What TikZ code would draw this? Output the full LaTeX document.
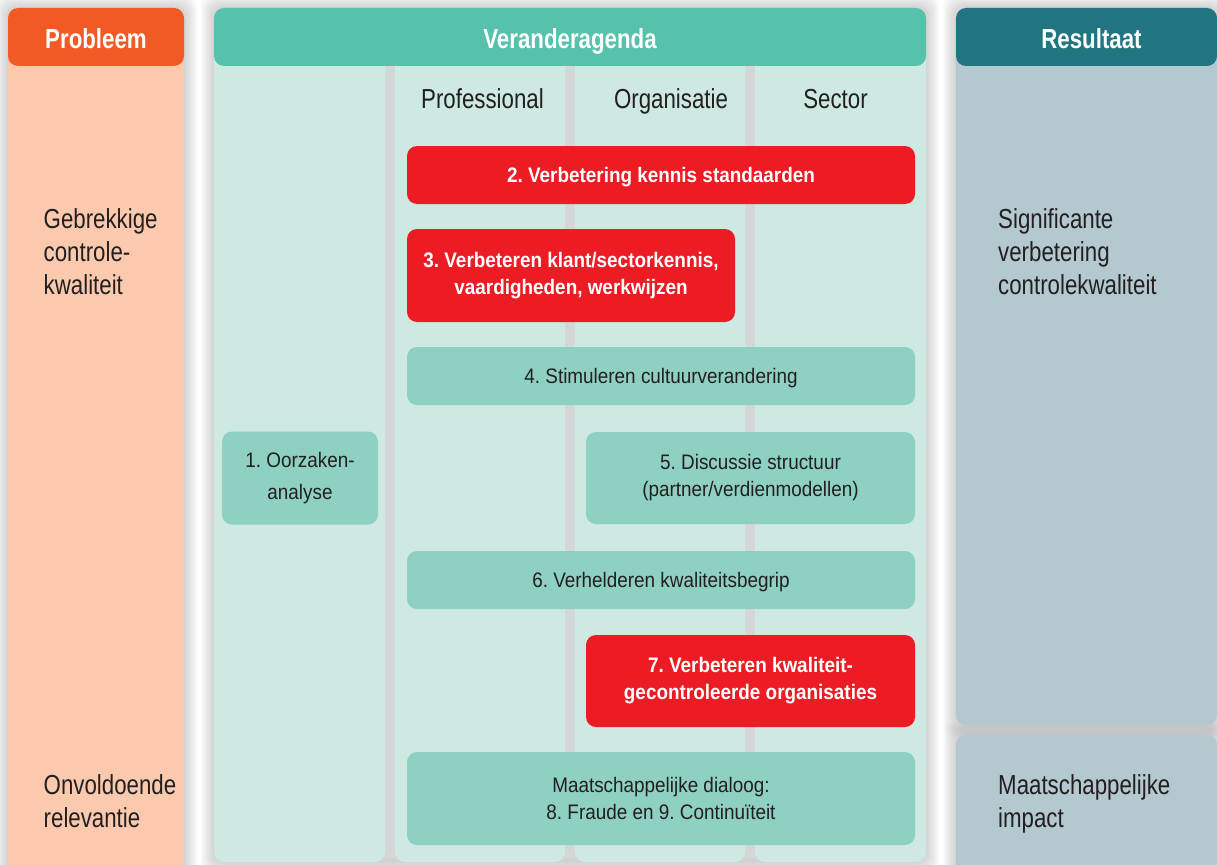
\documentclass[tikz,border=0pt]{standalone}
\usepackage{fontspec}
\setmainfont{Liberation Sans}[FakeStretch=0.9]
\newfontfamily\condfont{Liberation Sans}[FakeStretch=0.81]
\usepackage{xcolor}
\definecolor{prorange}{RGB}{241,90,36}
\definecolor{prpeach}{RGB}{251,202,174}
\definecolor{agteal}{RGB}{87,194,172}
\definecolor{agpale}{RGB}{205,233,225}
\definecolor{agbox}{RGB}{142,208,193}
\definecolor{agred}{RGB}{237,28,36}
\definecolor{rsdark}{RGB}{33,117,128}
\definecolor{rsgrey}{RGB}{180,200,207}
\definecolor{sepgrey}{RGB}{212,214,216}
\definecolor{txtdark}{RGB}{35,31,32}
\usepackage{tikz}
\frenchspacing
\newcommand{\bigtxt}{\condfont\fontsize{27.5}{33}\selectfont}
\newcommand{\boxtxt}{\fontsize{21}{27}\selectfont}
\tikzset{
  head/.style={rounded corners=10pt, inner sep=0pt, text=white, font=\bigtxt\bfseries, text height=24pt, text depth=0pt, minimum height=58pt},
  colbody/.style={rounded corners=10pt, inner sep=0pt, minimum height=832pt},
  tbox/.style={fill=agbox, rounded corners=10pt, align=center, text=txtdark, font=\boxtxt, inner sep=0pt},
  rbox/.style={fill=agred, rounded corners=10pt, align=center, text=white, font=\boxtxt\bfseries, inner sep=0pt},
  oneline/.style={text height=15.3pt, text depth=0pt, minimum height=58pt},
  sidetxt/.style={anchor=base west, align=left, inner sep=0pt, text=txtdark, font=\bigtxt},
  collbl/.style={anchor=base, inner sep=0pt, text=txtdark, font=\bigtxt},
  halo/.style={fill=black, opacity=0.028, rounded corners=12pt}
}

\begin{document}
\begin{tikzpicture}[x=1pt, y=-1pt]
  \useasboundingbox (0,0) rectangle (1217,864);
  \foreach \s in {1,3,...,13}{
    \fill[halo] (8-\s,8-\s) rectangle (184+\s,880);
    \fill[halo] (214-\s,8-\s) rectangle (926+\s,862+\s);
    \fill[halo] (956-\s,8-\s) rectangle (1217+\s,725+\s);
    \fill[halo] (956-\s,735-\s) rectangle (1217+\s,880);
  }
  \fill[sepgrey] (380,60) rectangle (760,858);

  \node[colbody, fill=prpeach, minimum width=176pt, minimum height=850pt] (probBody) at (96,455) {};
  \node[head, fill=prorange, minimum width=176pt] (probHead) at (96,37) {Probleem};

  \node[colbody, fill=agpale, minimum width=171pt] (colOorz) at (299.5,446) {};
  \node[colbody, fill=agpale, minimum width=170pt] (colProf) at (480,446) {};
  \node[colbody, fill=agpale, minimum width=170pt] (colOrg) at (660,446) {};
  \node[colbody, fill=agpale, minimum width=171pt] (colSect) at (840.5,446) {};
  \node[head, fill=agteal, minimum width=712pt] (agHead) at (570,37) {Veranderagenda};

  \node[colbody, fill=rsgrey, minimum width=261pt, minimum height=695pt] (resBody) at (1086.5,377.5) {};
  \node[colbody, fill=rsgrey, minimum width=261pt, minimum height=145pt] (resImpact) at (1086.5,807.5) {};
  \node[head, fill=rsdark, minimum width=261pt] (resHead) at (1086.5,37) {\hspace{10pt}Resultaat};

  \node[collbl] (lblProf) at (482.5,109) {Professional};
  \node[collbl] (lblOrg) at (671,109) {Organisatie};
  \node[collbl] (lblSect) at (835.5,109) {Sector};

  \node[tbox, minimum width=156pt, minimum height=93pt, font=\fontsize{21}{32}\selectfont] (oorzaken) at (300,478) {1. Oorzaken-\\analyse};
  \node[rbox, oneline, minimum width=508pt] (kennis) at (661,175) {2. Verbetering kennis standaarden};
  \node[rbox, minimum width=328pt, minimum height=93pt] (klant) at (571,275.5) {3. Verbeteren klant/sectorkennis,\\vaardigheden, werkwijzen};
  \node[tbox, oneline, minimum width=508pt] (cultuur) at (661,376) {4. Stimuleren cultuurverandering};
  \node[tbox, minimum width=329pt, minimum height=92pt] (structuur) at (750.5,478) {5. Discussie structuur\\(partner/verdienmodellen)};
  \node[tbox, oneline, minimum width=508pt] (begrip) at (661,580) {6. Verhelderen kwaliteitsbegrip};
  \node[rbox, minimum width=329pt, minimum height=92pt] (gecontr) at (750.5,681) {7. Verbeteren kwaliteit-\\gecontroleerde organisaties};
  \node[tbox, minimum width=508pt, minimum height=93pt] (dialoog) at (661,798.5) {Maatschappelijke dialoog:\\8. Fraude en 9. Continuïteit};

  \node[sidetxt] (gebrek) at (43.5,294) {Gebrekkige\\controle-\\kwaliteit};
  \node[sidetxt] (onvold) at (43.5,827) {Onvoldoende\\relevantie};
  \node[sidetxt] (signif) at (998,294) {Significante\\verbetering\\controlekwaliteit};
  \node[sidetxt] (impact) at (998,827) {Maatschappelijke\\impact};
\end{tikzpicture}
\end{document}
